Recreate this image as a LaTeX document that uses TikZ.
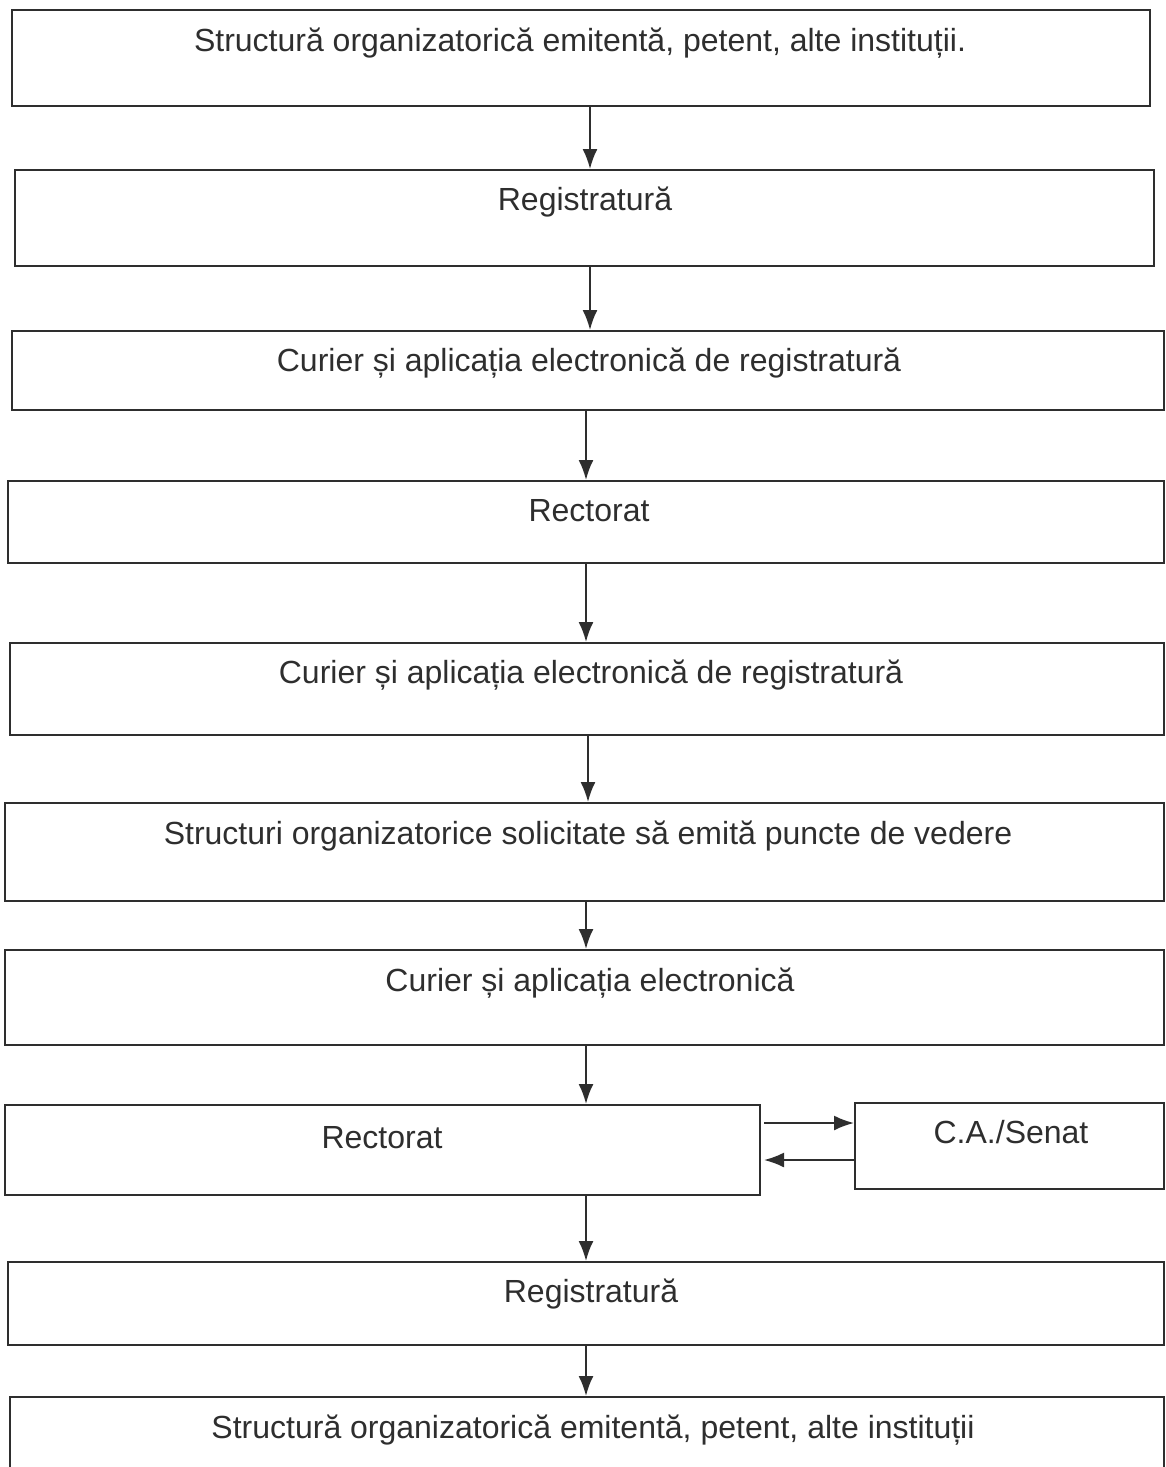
\documentclass[tikz,border=0pt]{standalone}
\usepackage{fontspec}
\setmainfont{Liberation Sans}
\usepackage{xcolor}
\usetikzlibrary{arrows.meta}
\definecolor{ink}{HTML}{2E2E2E}
\tikzset{
    box/.style={draw=ink,line width=2pt,rectangle,inner sep=0pt},
    lbl/.style={anchor=base,text=ink,inner sep=0pt,font=\fontsize{32}{38}\selectfont},
    arr/.style={draw=ink,line width=2pt,->}
}

\begin{document}
\begin{tikzpicture}[x=1pt,y=-1pt,>={Latex[length=20pt,width=15pt]}]
            \useasboundingbox (0,0) rectangle (1166,1467);
            % boxes
            \node[box,minimum width=1138pt,minimum height=96pt] (b1) at (581,58) {};
            \node[box,minimum width=1139pt,minimum height=96pt] (b2) at (584.5,218) {};
            \node[box,minimum width=1152pt,minimum height=79pt] (b3) at (588,370.5) {};
            \node[box,minimum width=1156pt,minimum height=82pt] (b4) at (586,522) {};
            \node[box,minimum width=1154pt,minimum height=92pt] (b5) at (587,689) {};
            \node[box,minimum width=1159pt,minimum height=98pt] (b6) at (584.5,852) {};
            \node[box,minimum width=1159pt,minimum height=95pt] (b7) at (584.5,997.5) {};
            \node[box,minimum width=755pt,minimum height=90pt] (b8) at (382.5,1150) {};
            \node[box,minimum width=309pt,minimum height=86pt] (b9) at (1009.5,1146) {};
            \node[box,minimum width=1156pt,minimum height=83pt] (b10) at (586,1303.5) {};
            \node[box,minimum width=1154pt,minimum height=86pt] (b11) at (587,1440) {};
            % texts
            \node[lbl] (t1) at (580,51) {Structură organizatorică emitentă, petent, alte instituții.};
            \node[lbl] (t2) at (585,210) {Registratură};
            \node[lbl] (t3) at (589,371) {Curier și aplicația electronică de registratură};
            \node[lbl] (t4) at (589,521) {Rectorat};
            \node[lbl] (t5) at (591,683) {Curier și aplicația electronică de registratură};
            \node[lbl] (t6) at (588,844) {Structuri organizatorice solicitate să emită puncte de vedere};
            \node[lbl] (t7) at (590,991) {Curier și aplicația electronică};
            \node[lbl] (t8) at (382,1148) {Rectorat};
            \node[lbl] (t9) at (1011,1143) {C.A./Senat};
            \node[lbl] (t10) at (591,1302) {Registratură};
            \node[lbl] (t11) at (593,1438) {Structură organizatorică emitentă, petent, alte instituții};
            % connectors
            \draw[arr] ([xshift=9pt]b1.south) -- ([xshift=9pt]b1.south |- b2.north);
            \draw[arr] ([xshift=5.5pt]b2.south) -- ([xshift=5.5pt]b2.south |- b3.north);
            \draw[arr] ([xshift=-2pt]b3.south) -- ([xshift=-2pt]b3.south |- b4.north);
            \draw[arr] (b4.south) -- (b4.south |- b5.north);
            \draw[arr] ([xshift=1pt]b5.south) -- ([xshift=1pt]b5.south |- b6.north);
            \draw[arr] ([xshift=1.5pt]b6.south) -- ([xshift=1.5pt]b6.south |- b7.north);
            \draw[arr] ([xshift=1.5pt]b7.south) -- ([xshift=1.5pt]b7.south |- b8.north);
            \draw[arr] ([xshift=3pt]b8.east |- 0,1123) -- (b9.west |- 0,1123);
            \draw[arr] (b9.west |- 0,1160) -- ([xshift=3pt]b8.east |- 0,1160);
            \draw[arr] (b10.north |- b8.south) -- (b10.north);
            \draw[arr] (b10.south) -- (b10.south |- b11.north);
\end{tikzpicture}
\end{document}
